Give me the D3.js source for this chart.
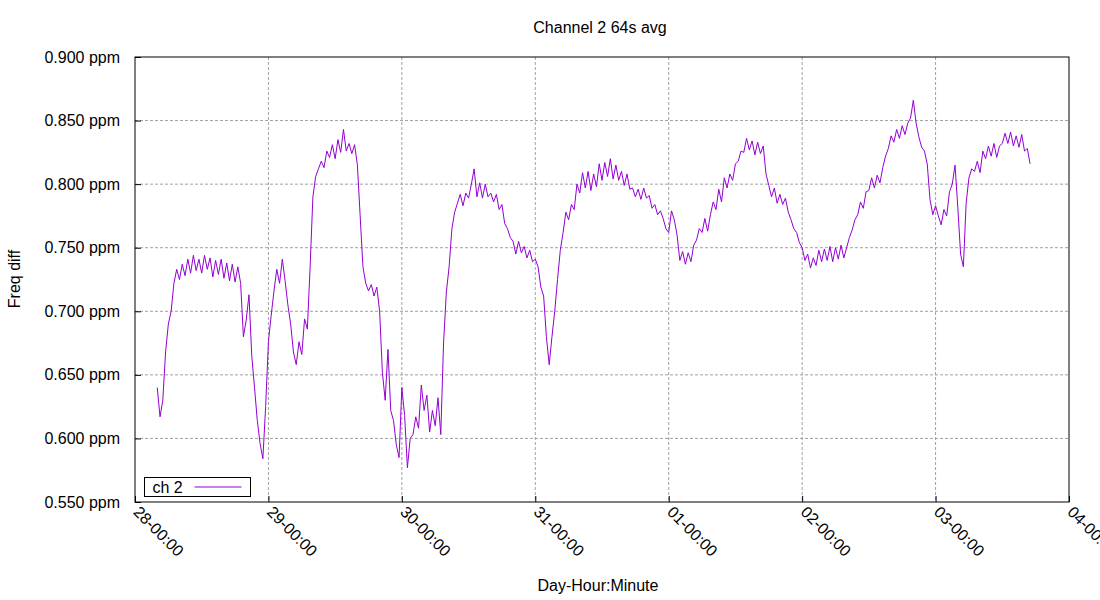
<!DOCTYPE html>
<html>
<head>
<meta charset="utf-8">
<script src="https://cdn.jsdelivr.net/npm/d3@7"></script>
<style>
  body { margin: 0; background: #fff; }
  svg text { font-family: "Liberation Sans", Arial, sans-serif; font-size: 16px; fill: #000; }
</style>
</head>
<body>
<div id="chart-container"></div>
<script>
// Chart text
const chartTitle = "Channel 2 64s avg";
const xTitle = "Day-Hour:Minute";
const yTitle = "Freq diff";
const seriesName = "ch 2";

// Axis ranges / ticks
const xStart = "2020-12-28";
const xEnd = "2021-01-04";
const yTicks = [0.55, 0.60, 0.65, 0.70, 0.75, 0.80, 0.85, 0.90];

// Samples are every half hour; each day keeps its own list (ppm)
const sampleStepHours = 0.5;
const dayDates = ["2020-12-28", "2020-12-29", "2020-12-30", "2020-12-31", "2021-01-01", "2021-01-02", "2021-01-03"];
const dayStartHours = [4, 0, 0, 0, 0, 0, 0];

const day28 = [0.640, 0.617, 0.630, 0.668, 0.690, 0.700, 0.722, 0.733, 0.725, 0.737,
  0.728, 0.741, 0.730, 0.744, 0.732, 0.741, 0.730, 0.744, 0.733, 0.742,
  0.727, 0.740, 0.729, 0.741, 0.726, 0.738, 0.724, 0.737, 0.723, 0.735,
  0.722, 0.680, 0.693, 0.713, 0.665, 0.640, 0.614, 0.596, 0.584, 0.625];
const day29 = [0.676, 0.697, 0.716, 0.733, 0.722, 0.741, 0.724, 0.705, 0.690, 0.668,
  0.658, 0.676, 0.666, 0.694, 0.686, 0.735, 0.790, 0.806, 0.812, 0.818,
  0.813, 0.826, 0.821, 0.831, 0.820, 0.835, 0.825, 0.843, 0.826, 0.832,
  0.824, 0.831, 0.815, 0.775, 0.735, 0.722, 0.716, 0.721, 0.712, 0.719,
  0.700, 0.652, 0.630, 0.670, 0.622, 0.614, 0.595, 0.585];
const day30 = [0.640, 0.618, 0.577, 0.600, 0.603, 0.617, 0.608, 0.642, 0.622, 0.634,
  0.605, 0.622, 0.610, 0.632, 0.603, 0.675, 0.715, 0.735, 0.765, 0.778,
  0.785, 0.792, 0.783, 0.793, 0.789, 0.800, 0.812, 0.790, 0.801, 0.789,
  0.800, 0.790, 0.793, 0.786, 0.792, 0.780, 0.784, 0.769, 0.765, 0.758,
  0.755, 0.745, 0.755, 0.746, 0.751, 0.742, 0.748, 0.739];
const day31 = [0.741, 0.735, 0.719, 0.712, 0.680, 0.658, 0.680, 0.700, 0.725, 0.748,
  0.762, 0.778, 0.772, 0.784, 0.780, 0.800, 0.793, 0.809, 0.797, 0.810,
  0.795, 0.808, 0.798, 0.816, 0.803, 0.817, 0.806, 0.820, 0.804, 0.815,
  0.803, 0.810, 0.799, 0.808, 0.796, 0.797, 0.790, 0.796, 0.788, 0.797,
  0.789, 0.791, 0.781, 0.784, 0.776, 0.779, 0.773, 0.765];
const day01 = [0.762, 0.779, 0.772, 0.760, 0.740, 0.747, 0.737, 0.746, 0.739, 0.752,
  0.756, 0.765, 0.762, 0.773, 0.763, 0.776, 0.786, 0.780, 0.796, 0.786,
  0.805, 0.797, 0.808, 0.803, 0.816, 0.818, 0.826, 0.825, 0.836, 0.827,
  0.834, 0.823, 0.833, 0.824, 0.830, 0.808, 0.799, 0.790, 0.797, 0.785,
  0.792, 0.784, 0.789, 0.778, 0.772, 0.765, 0.762, 0.754];
const day02 = [0.750, 0.740, 0.745, 0.734, 0.742, 0.736, 0.748, 0.739, 0.749, 0.740,
  0.751, 0.739, 0.750, 0.741, 0.752, 0.742, 0.750, 0.758, 0.764, 0.772,
  0.776, 0.786, 0.781, 0.794, 0.795, 0.805, 0.797, 0.807, 0.801, 0.813,
  0.822, 0.828, 0.838, 0.833, 0.843, 0.836, 0.846, 0.839, 0.848, 0.852,
  0.866, 0.848, 0.837, 0.829, 0.826, 0.816, 0.788, 0.776];
const day03 = [0.783, 0.775, 0.768, 0.780, 0.775, 0.794, 0.800, 0.815, 0.782, 0.745,
  0.735, 0.785, 0.805, 0.812, 0.810, 0.818, 0.809, 0.826, 0.820, 0.830,
  0.822, 0.832, 0.821, 0.830, 0.832, 0.840, 0.832, 0.841, 0.830, 0.838,
  0.829, 0.839, 0.826, 0.828, 0.816];
const dayValues = [day28, day29, day30, day31, day01, day02, day03];

// Build the point list (timestamp, value)
const hourMs = 3600 * 1000;
const points = [];
dayValues.forEach((vals, di) => {
    const base = new Date(dayDates[di] + "T00:00:00Z").getTime();
    vals.forEach((v, i) => {
        points.push({ t: new Date(base + (dayStartHours[di] + i * sampleStepHours) * hourMs), v: v });
    });
});

// Dimensions
const margin = { top: 57, right: 31, bottom: 98, left: 135 };
const width = 1100 - margin.left - margin.right;
const height = 600 - margin.top - margin.bottom;

const svg = d3.select("#chart-container")
    .append("svg")
    .attr("width", 1100)
    .attr("height", 600);

const g = svg.append("g")
    .attr("transform", `translate(${margin.left},${margin.top})`);

const x = d3.scaleUtc()
    .domain([new Date(xStart + "T00:00:00Z"), new Date(xEnd + "T00:00:00Z")])
    .range([0, width]);

const y = d3.scaleLinear()
    .domain([d3.min(yTicks), d3.max(yTicks)])
    .range([height, 0]);

const xTickVals = d3.utcDay.range(x.domain()[0], d3.utcDay.offset(x.domain()[1], 1));

// Grid lines
g.append("g")
    .selectAll("line")
    .data(xTickVals.slice(1, -1))
    .enter()
    .append("line")
    .attr("x1", d => x(d)).attr("x2", d => x(d))
    .attr("y1", 0).attr("y2", height)
    .attr("stroke", "#a0a0a0")
    .attr("stroke-dasharray", "3,2");

g.append("g")
    .selectAll("line")
    .data(yTicks.slice(1, -1))
    .enter()
    .append("line")
    .attr("x1", 0).attr("x2", width)
    .attr("y1", d => y(d)).attr("y2", d => y(d))
    .attr("stroke", "#a0a0a0")
    .attr("stroke-dasharray", "3,2");

// Y axis (ticks point inward)
const yAxis = g.append("g")
    .call(d3.axisLeft(y)
        .tickValues(yTicks)
        .tickFormat(d => d3.format(".3f")(d) + " ppm")
        .tickSizeInner(-6)
        .tickSizeOuter(0)
        .tickPadding(15));
yAxis.select(".domain").remove();
yAxis.selectAll("line").attr("stroke", "#000");
yAxis.selectAll("text").attr("font-size", 16).attr("font-family", "Liberation Sans, Arial, sans-serif");

// X axis
const xAxis = g.append("g")
    .attr("transform", `translate(0,${height})`)
    .call(d3.axisBottom(x)
        .tickValues(xTickVals)
        .tickFormat(d3.utcFormat("%d-%H:%M"))
        .tickSizeInner(-6)
        .tickSizeOuter(0));
xAxis.select(".domain").remove();
xAxis.selectAll("line").attr("stroke", "#000");
xAxis.selectAll("text")
    .attr("font-size", 16)
    .attr("font-family", "Liberation Sans, Arial, sans-serif")
    .attr("text-anchor", "start")
    .attr("x", -3)
    .attr("y", 11)
    .attr("dy", null)
    .attr("transform", "rotate(45 -3 11)");

// The data line
const line = d3.line()
    .x(d => x(d.t))
    .y(d => y(d.v));

g.append("path")
    .datum(points)
    .attr("fill", "none")
    .attr("stroke", "#9400d3")
    .attr("stroke-width", 1)
    .attr("d", line);

// Plot border
g.append("rect")
    .attr("width", width)
    .attr("height", height)
    .attr("fill", "none")
    .attr("stroke", "#000")
    .attr("stroke-width", 1);

// Legend
const legend = g.append("g").attr("transform", `translate(9.5,${height - 24.5})`);
legend.append("rect")
    .attr("width", 106)
    .attr("height", 19)
    .attr("fill", "#fff")
    .attr("stroke", "#000");
legend.append("text")
    .attr("x", 8)
    .attr("y", 15)
    .text(seriesName);
legend.append("line")
    .attr("x1", 50).attr("x2", 97)
    .attr("y1", 9.5).attr("y2", 9.5)
    .attr("stroke", "#9400d3");

// Titles
svg.append("text")
    .attr("x", 600)
    .attr("y", 33)
    .attr("text-anchor", "middle")
    .text(chartTitle);

svg.append("text")
    .attr("x", 598)
    .attr("y", 591)
    .attr("text-anchor", "middle")
    .text(xTitle);

svg.append("text")
    .attr("transform", "translate(20,279) rotate(-90)")
    .attr("text-anchor", "middle")
    .text(yTitle);
</script>
</body>
</html>
